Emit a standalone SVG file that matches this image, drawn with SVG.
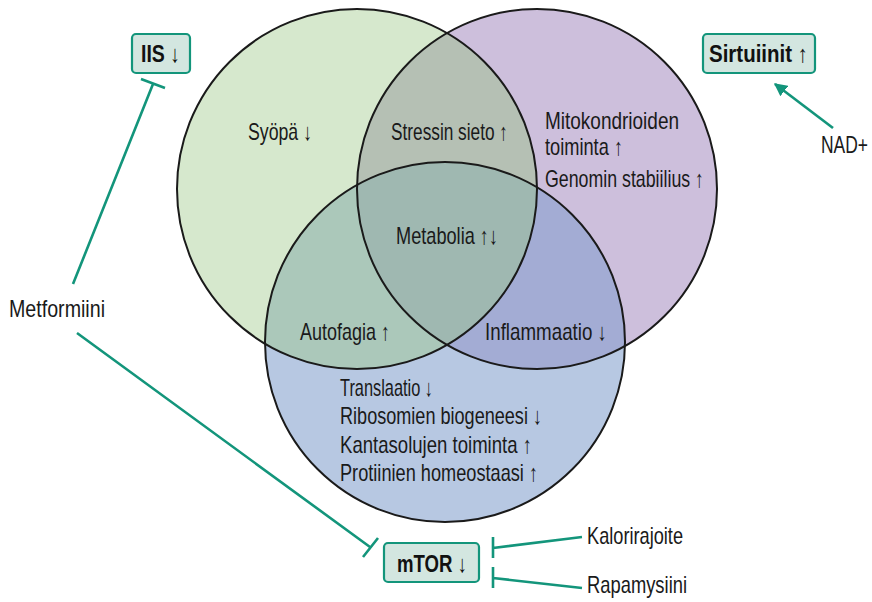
<svg xmlns="http://www.w3.org/2000/svg" width="872" height="602" viewBox="0 0 872 602">
<defs>
<style>
text{font-family:"Liberation Sans",Arial,sans-serif;font-size:24px;fill:#1a1a1a}
.b{font-weight:bold;fill:#111}
.box{fill:#d3e6e0;stroke:#13957b;stroke-width:2.2}
.ring{fill:none;stroke:#1a1a1a;stroke-width:2}
.con{fill:none;stroke:#13957b;stroke-width:2.6}
</style>
<clipPath id="cP"><circle cx="537" cy="189" r="180"/></clipPath>
<clipPath id="cB"><circle cx="445" cy="342" r="180"/></clipPath>
<marker id="ah" viewBox="0 0 10 10" refX="9" refY="5" markerWidth="5" markerHeight="5" orient="auto" markerUnits="strokeWidth">
<path d="M0,0 L10,5 L0,10 z" fill="#13957b"/>
</marker>
</defs>
<rect width="872" height="602" fill="#fff"/>
<g id="venn">
<circle cx="357" cy="189" r="180" fill="#d6e8cd"/>
<circle cx="537" cy="189" r="180" fill="#cdbfdc"/>
<circle cx="445" cy="342" r="180" fill="#b7c8e2"/>
<g clip-path="url(#cP)"><circle cx="357" cy="189" r="180" fill="#b5c0b4"/></g>
<g clip-path="url(#cB)"><circle cx="357" cy="189" r="180" fill="#abc8ba"/></g>
<g clip-path="url(#cB)"><circle cx="537" cy="189" r="180" fill="#a3acd4"/></g>
<g clip-path="url(#cB)"><g clip-path="url(#cP)"><circle cx="357" cy="189" r="180" fill="#9fb8b1"/></g></g>
<circle class="ring" cx="357" cy="189" r="180"/>
<circle class="ring" cx="537" cy="189" r="180"/>
<circle class="ring" cx="445" cy="342" r="180"/>
</g>
<g id="labels">
<text x="248" y="140" textLength="64" lengthAdjust="spacingAndGlyphs">Syöpä ↓</text>
<text x="391" y="140" textLength="117" lengthAdjust="spacingAndGlyphs">Stressin sieto ↑</text>
<text x="545" y="129" textLength="134" lengthAdjust="spacingAndGlyphs">Mitokondrioiden</text>
<text x="545" y="155" textLength="78" lengthAdjust="spacingAndGlyphs">toiminta ↑</text>
<text x="545" y="187" textLength="159" lengthAdjust="spacingAndGlyphs">Genomin stabiilius ↑</text>
<text x="396" y="244" textLength="102" lengthAdjust="spacingAndGlyphs">Metabolia ↑↓</text>
<text x="300" y="340" textLength="90" lengthAdjust="spacingAndGlyphs">Autofagia ↑</text>
<text x="485" y="340" textLength="122" lengthAdjust="spacingAndGlyphs">Inflammaatio ↓</text>
<text x="340" y="396" textLength="93" lengthAdjust="spacingAndGlyphs">Translaatio ↓</text>
<text x="340" y="424" textLength="202" lengthAdjust="spacingAndGlyphs">Ribosomien biogeneesi ↓</text>
<text x="340" y="453" textLength="192" lengthAdjust="spacingAndGlyphs">Kantasolujen toiminta ↑</text>
<text x="340" y="481" textLength="198" lengthAdjust="spacingAndGlyphs">Protiinien homeostaasi ↑</text>
</g>
<g id="connectors">
<path class="con" d="M73,284 L153,84 M141,79 L165,88"/>
<path class="con" d="M77,333 L370,547 M363,557 L378,538"/>
<path class="con" d="M582,537 L493,548 M493,537 L493,558"/>
<path class="con" d="M582,588 L493,578 M493,567 L493,588"/>
<path class="con" d="M833,128 L775,84" marker-end="url(#ah)"/>
</g>
<g id="IIS">
<rect class="box" x="132" y="34" width="58" height="39" rx="4"/>
<text class="b" x="141" y="62" textLength="39" lengthAdjust="spacingAndGlyphs">IIS ↓</text>
</g>
<g id="Sirtuiinit">
<rect class="box" x="703" y="34" width="112" height="39" rx="4"/>
<text class="b" x="709" y="62" textLength="99" lengthAdjust="spacingAndGlyphs">Sirtuiinit ↑</text>
</g>
<g id="mTOR">
<rect class="box" x="384" y="543" width="95" height="39" rx="4"/>
<text class="b" x="397" y="572" textLength="70" lengthAdjust="spacingAndGlyphs">mTOR ↓</text>
</g>
<g id="Metformiini"><text x="9" y="317" textLength="96" lengthAdjust="spacingAndGlyphs">Metformiini</text></g>
<g id="NAD"><text x="868" y="153" text-anchor="end" font-size="22" textLength="47" lengthAdjust="spacingAndGlyphs">NAD+</text></g>
<g id="Kalorirajoite"><text x="587" y="544" textLength="96" lengthAdjust="spacingAndGlyphs">Kalorirajoite</text></g>
<g id="Rapamysiini"><text x="587" y="593" textLength="100" lengthAdjust="spacingAndGlyphs">Rapamysiini</text></g>
</svg>
